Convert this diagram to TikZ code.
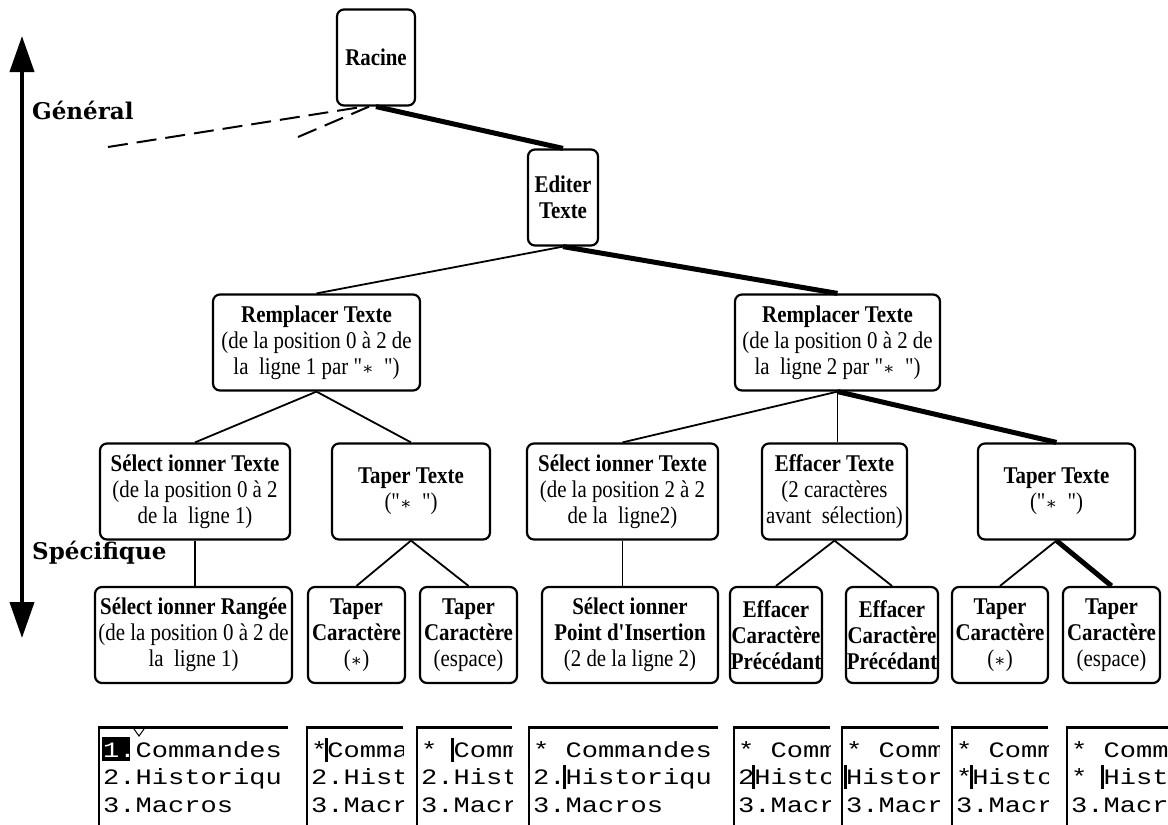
\documentclass[tikz,border=0pt]{standalone}
\usepackage{fontspec}
\setmainfont{Liberation Serif}[Ligatures=TeXOff,FakeStretch=0.87]
\newfontfamily\axisfont{DejaVu Serif}
\newfontfamily\screenfont{Liberation Mono}[FakeStretch=1.23]
\usetikzlibrary{arrows.meta}

\begin{document}
\begin{tikzpicture}
[x=1pt,y=-1pt,
 nodedecorate/.style={shape=rectangle,rounded corners=7pt,draw,line width=2.2pt,
   align=center,inner sep=0pt,font=\fontsize{24}{26}\selectfont},
 linedecorate/.style={-,line width=1.8pt},
 heavydecorate/.style={-,line width=5pt},
 dashdecorate/.style={-,line width=2pt,dash pattern=on 20pt off 9pt},
 axisdecorate/.style={{Triangle[length=36pt,width=24pt]}-{Triangle[length=36pt,width=24pt]},line width=4pt},
 labeldecorate/.style={anchor=west,inner sep=0pt,font=\axisfont\bfseries\fontsize{23}{27}\selectfont},
 screendecorate/.style={anchor=base west,inner sep=0pt,font=\screenfont\fontsize{22}{26}\selectfont},
 framedecorate/.style={line width=2pt},
 cursordecorate/.style={line width=3pt}]
\useasboundingbox (0,0) rectangle (1168,825);
%% axis from general to specific
\coordinate (axistop) at (22,36);
\coordinate (axisbottom) at (22,638);
\draw[axisdecorate] (axistop) -- (axisbottom);
\node (General) at (32,110) [labeldecorate] {Général};
\node (Specifique) at (32,553) [labeldecorate] {Spécifique};
%% nodes or vertices
\foreach \nodename/\x/\y/\w/\txt in {
  Racine/376/57.5/78/{\textbf{Racine}},
  Editer/563/197.5/70/{\textbf{Editer}\\\textbf{Texte}},
  RempL/316.5/342.5/207/{\textbf{Remplacer Texte}\\(de la position 0 à 2 de\\la\ \ ligne 1 par "{\axisfont\fontsize{17}{26}\selectfont ∗}\ \ ")},
  RempR/837.5/342.5/205/{\textbf{Remplacer Texte}\\(de la position 0 à 2 de\\la\ \ ligne 2 par "{\axisfont\fontsize{17}{26}\selectfont ∗}\ \ ")},
  SelL/195/491.5/190/{\textbf{Sélect ionner Texte}\\(de la position 0 à 2\\de la\ \ ligne 1)},
  TapL/411/491.5/158/{\textbf{Taper Texte}\\("{\axisfont\fontsize{17}{26}\selectfont ∗}\ \ ")},
  SelR/622.5/491.5/191/{\textbf{Sélect ionner Texte}\\(de la position 2 à 2\\de la\ \ ligne2)},
  EffT/834.5/491.5/145/{\textbf{Effacer Texte}\\(2 caractères\\avant\ \ sélection)},
  TapR/1056.5/491.5/157/{\textbf{Taper Texte}\\("{\axisfont\fontsize{17}{26}\selectfont ∗}\ \ ")},
  Rang/193.5/635/197/{\textbf{Sélect ionner Rangée}\\(de la position 0 à 2 de\\la\ \ ligne 1)},
  CarA/356.5/635/97/{\textbf{Taper}\\\textbf{Caractère}\\({\axisfont\fontsize{17}{26}\selectfont ∗})},
  CarB/468.5/635/97/{\textbf{Taper}\\\textbf{Caractère}\\(espace)},
  Point/630/635/176/{\textbf{Sélect ionner}\\\textbf{Point d'Insertion}\\(2 de la ligne 2)},
  EffA/776/635/92/{\textbf{Effacer}\\\textbf{Caractère}\\\textbf{Précédant}},
  EffB/892/635/92/{\textbf{Effacer}\\\textbf{Caractère}\\\textbf{Précédant}},
  CarC/1000/635/96/{\textbf{Taper}\\\textbf{Caractère}\\({\axisfont\fontsize{17}{26}\selectfont ∗})},
  CarD/1111.5/635/97/{\textbf{Taper}\\\textbf{Caractère}\\(espace)}}
{
  \node (\nodename) at (\x,\y) [nodedecorate,minimum width=\w pt,minimum height=96pt] {\txt};
}
%% edges or lines
\path
\foreach \startnode/\endnode/\kind in {
  Racine/Editer/heavydecorate, Editer/RempL/linedecorate,
  Editer/RempR/heavydecorate, RempL/SelL/linedecorate,
  RempL/TapL/linedecorate, RempR/SelR/linedecorate,
  RempR/TapR/heavydecorate, TapL/CarA/linedecorate,
  TapL/CarB/linedecorate, EffT/EffA/linedecorate,
  EffT/EffB/linedecorate, TapR/CarC/linedecorate,
  TapR/CarD/heavydecorate}
{
  (\startnode.south) edge[\kind] (\endnode.north)
};
\foreach \startnode/\endnode in {SelL/Rang, SelR/Point, RempR/EffT}
{
  \draw[linedecorate] (\startnode.south) -- (\startnode.south |- \endnode.north);
}
%% other roots, dashed
\coordinate (otherA) at (108,147);
\coordinate (otherB) at (298,137);
\draw[dashdecorate] (otherA) -- ([xshift=-12pt]Racine.south);
\draw[dashdecorate] (otherB) -- ([xshift=-7pt]Racine.south);
%% selection in the first screen
\fill (102,737) rectangle (130,761);
\draw[line width=1pt] (134,729) -- (139,736) -- (144,729);
%% screens under the leaves
\foreach \xl/\xr/\rowa/\rowb/\rowc/\crow/\ccol in {
  99/288/{\textcolor{white}{1.}Commandes}/{2.Historiqu}/{3.Macros}/0/0,
  307/403/{*Comma}/{2.Hist}/{3.Macr}/1/1,
  417/512/{* Comm}/{2.Hist}/{3.Macr}/1/2,
  529/718/{* Commandes}/{2.Historiqu}/{3.Macros}/2/2,
  734/830/{* Comm}/{2Histo}/{3.Macr}/2/1,
  842/939/{* Comm}/{Histor}/{3.Macr}/2/0,
  952/1048/{* Comm}/{*Histo}/{3.Macr}/2/1,
  1067/1168/{* Comm}/{* Hist}/{3.Macr}/2/2}
{
  \begin{scope}
    \clip (\xl,726) rectangle (\xr,825);
    \node at (\xl+4,757) [screendecorate] {\rowa};
    \node at (\xl+4,784) [screendecorate] {\rowb};
    \node at (\xl+4,812) [screendecorate] {\rowc};
  \end{scope}
  \draw[framedecorate] (\xl,825) -- (\xl,727);
  \draw[line width=3pt] (\xl-1,727) -- (\xr,727);
  \ifnum\crow=1
    \draw[cursordecorate] (\xl+3+\ccol*16.2,738) -- (\xl+3+\ccol*16.2,762);
  \fi
  \ifnum\crow=2
    \draw[cursordecorate] (\xl+3+\ccol*16.2,765) -- (\xl+3+\ccol*16.2,789);
  \fi
}
\end{tikzpicture}
\end{document}
